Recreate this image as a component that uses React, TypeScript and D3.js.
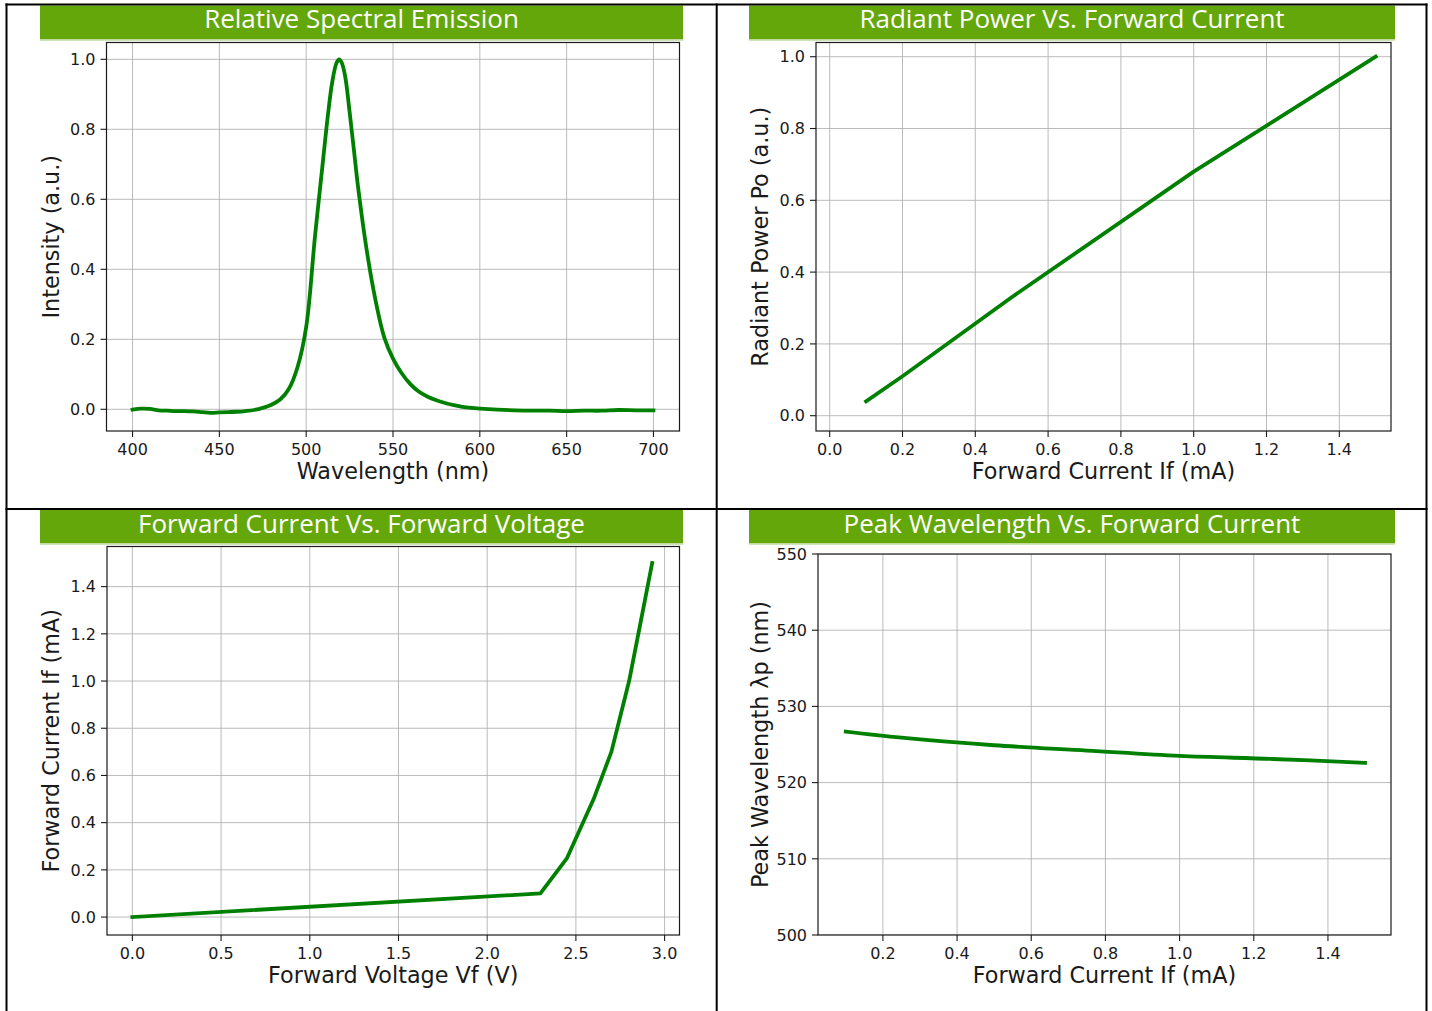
import React from "react";
import * as d3 from "d3";

// ---------- DATA ----------
const spectrumWavelength = [
  400, 405, 410, 415, 420, 425, 430, 435, 440, 445, 450, 455, 460, 465, 470, 475,
  480, 485, 490, 495, 500, 505, 510, 512.5, 515, 517.5, 519, 520.5, 522.5, 525,
  527.5, 530, 535, 540, 545, 550, 555, 560, 565, 570, 575, 580, 585, 590, 595,
  600, 610, 620, 630, 640, 650, 660, 670, 680, 690, 700,
];
const spectrumIntensity = [
  -0.001, 0.002, 0.001, -0.003, -0.004, -0.005, -0.005, -0.006, -0.008, -0.01,
  -0.009, -0.008, -0.007, -0.005, -0.002, 0.004, 0.013, 0.028, 0.058, 0.12,
  0.235, 0.49, 0.725, 0.84, 0.935, 0.99, 1.0, 0.99, 0.95, 0.85, 0.74, 0.63,
  0.45, 0.31, 0.205, 0.145, 0.103, 0.072, 0.05, 0.036, 0.026, 0.018, 0.012,
  0.007, 0.004, 0.002, -0.001, -0.003, -0.004, -0.004, -0.005, -0.004, -0.004,
  -0.002, -0.003, -0.003,
];

const powerCurrent = [0.1, 0.2, 0.5, 1.0, 1.5];
const powerRadiant = [0.04, 0.11, 0.33, 0.68, 1.0];

const ivVoltage = [0, 2.3, 2.45, 2.6, 2.7, 2.8, 2.93];
const ivCurrent = [0, 0.1, 0.25, 0.5, 0.7, 1.0, 1.5];

const peakCurrent = [0.1, 0.25, 0.5, 0.75, 1.0, 1.25, 1.5];
const peakWavelength = [526.7, 525.9, 524.9, 524.2, 523.5, 523.1, 522.6];

const spectrumXTicks = [400, 450, 500, 550, 600, 650, 700];
const spectrumYTicks = [0, 0.2, 0.4, 0.6, 0.8, 1.0];
const powerXTicks = [0, 0.2, 0.4, 0.6, 0.8, 1.0, 1.2, 1.4];
const powerYTicks = [0, 0.2, 0.4, 0.6, 0.8, 1.0];
const ivXTicks = [0, 0.5, 1.0, 1.5, 2.0, 2.5, 3.0];
const ivYTicks = [0, 0.2, 0.4, 0.6, 0.8, 1.0, 1.2, 1.4];
const peakXTicks = [0.2, 0.4, 0.6, 0.8, 1.0, 1.2, 1.4];
const peakYTicks = [500, 510, 520, 530, 540, 550];

const titles = [
  "Relative Spectral Emission",
  "Radiant Power Vs. Forward Current",
  "Forward Current Vs. Forward Voltage",
  "Peak Wavelength Vs. Forward Current",
];

// ---------- STYLE ----------
const W = 1432;
const H = 1011;
const BAR_GREEN = "#63a70a";
const LINE_GREEN = "#008000";
const TICK_FONT = "'DejaVu Sans', sans-serif";
const TITLE_FONT = "'Open Sans', sans-serif";
const TICK_SIZE = 16;
const LABEL_SIZE = 22.3;

type PanelProps = {
  id: string;
  title: string;
  barX0: number;
  barX1: number;
  barY0: number;
  barY1: number;
  left: number;
  right: number;
  top: number;
  bottom: number;
  xDomain: [number, number];
  yDomain: [number, number];
  xTicks: number[];
  yTicks: number[];
  fmtX: (v: number) => string;
  fmtY: (v: number) => string;
  xLabel: string;
  yLabel: string;
  yLabelX: number;
  xs: number[];
  ys: number[];
  smooth: boolean;
};

function Panel(p: PanelProps) {
  const x = d3.scaleLinear().domain(p.xDomain).range([p.left, p.right]);
  const y = d3.scaleLinear().domain(p.yDomain).range([p.bottom, p.top]);
  const pts: [number, number][] = p.xs.map((v, i) => [v, p.ys[i]]);
  const line = d3
    .line<[number, number]>()
    .x((d) => x(d[0]))
    .y((d) => y(d[1]))
    .curve(p.smooth ? d3.curveCatmullRom.alpha(0.5) : d3.curveLinear);
  const tickLen = 6;
  const pad = 5;
  const cx = (p.left + p.right) / 2;
  const cy = (p.top + p.bottom) / 2;
  return (
    <g>
      <defs>
        <clipPath id={`clip-${p.id}`}>
          <rect x={p.left} y={p.top} width={p.right - p.left} height={p.bottom - p.top} />
        </clipPath>
      </defs>
      {/* title bar */}
      <rect x={p.barX0} y={p.barY0} width={p.barX1 - p.barX0} height={p.barY1 - p.barY0} fill={BAR_GREEN} />
      <rect x={p.barX0} y={p.barY1} width={p.barX1 - p.barX0} height={1.5} fill="#cfe4b4" />
      <text
        x={(p.barX0 + p.barX1) / 2}
        y={p.barY0 + 22.5}
        textAnchor="middle"
        fill="#ffffff"
        fontFamily={TITLE_FONT}
        fontSize={26}
      >
        {p.title}
      </text>
      {/* grid */}
      <g clipPath={`url(#clip-${p.id})`}>
        {p.xTicks.map((t) => (
          <line key={`gx${t}`} x1={x(t)} x2={x(t)} y1={p.top} y2={p.bottom} stroke="#b0b0b0" strokeWidth={1} opacity={0.85} />
        ))}
        {p.yTicks.map((t) => (
          <line key={`gy${t}`} x1={p.left} x2={p.right} y1={y(t)} y2={y(t)} stroke="#b0b0b0" strokeWidth={1} opacity={0.85} />
        ))}
        <path d={line(pts) || ""} fill="none" stroke={LINE_GREEN} strokeWidth={3.8} strokeLinejoin="round" strokeLinecap="square" />
      </g>
      {/* spines */}
      <rect x={p.left} y={p.top} width={p.right - p.left} height={p.bottom - p.top} fill="none" stroke="#1a1a1a" strokeWidth={1.2} />
      {/* x ticks */}
      {p.xTicks.map((t) => (
        <g key={`xt${t}`}>
          <line x1={x(t)} x2={x(t)} y1={p.bottom} y2={p.bottom + tickLen} stroke="#1a1a1a" strokeWidth={1.1} />
          <text x={x(t)} y={p.bottom + 23.5} textAnchor="middle" fontFamily={TICK_FONT} fontSize={TICK_SIZE} fill="#1a1a1a">
            {p.fmtX(t)}
          </text>
        </g>
      ))}
      {/* y ticks */}
      {p.yTicks.map((t) => (
        <g key={`yt${t}`}>
          <line x1={p.left - tickLen} x2={p.left} y1={y(t)} y2={y(t)} stroke="#1a1a1a" strokeWidth={1.1} />
          <text x={p.left - tickLen - pad} y={y(t)} dy="0.36em" textAnchor="end" fontFamily={TICK_FONT} fontSize={TICK_SIZE} fill="#1a1a1a">
            {p.fmtY(t)}
          </text>
        </g>
      ))}
      {/* axis labels */}
      <text x={cx} y={p.bottom + 47.5} textAnchor="middle" fontFamily={TICK_FONT} fontSize={LABEL_SIZE} fill="#1a1a1a">
        {p.xLabel}
      </text>
      <text
        transform={`translate(${p.yLabelX},${cy}) rotate(-90)`}
        textAnchor="middle"
        fontFamily={TICK_FONT}
        fontSize={LABEL_SIZE}
        fill="#1a1a1a"
      >
        {p.yLabel}
      </text>
    </g>
  );
}

const f1 = (v: number) => d3.format(".1f")(v);
const f0 = (v: number) => d3.format("d")(v);

export default function App() {
  return (
    <div style={{ position: "absolute", left: 0, top: 0 }}>
      <svg width={W} height={H} viewBox={`0 0 ${W} ${H}`} style={{ display: "block", background: "#fff" }}>
        <rect x={0} y={0} width={W} height={H} fill="#ffffff" />
        <Panel
          id="a"
          title={titles[0]}
          barX0={40}
          barX1={683}
          barY0={5.5}
          barY1={39.5}
          left={106.5}
          right={679.5}
          top={42.5}
          bottom={431}
          xDomain={[385, 715]}
          yDomain={[-0.062, 1.048]}
          xTicks={spectrumXTicks}
          yTicks={spectrumYTicks}
          fmtX={f0}
          fmtY={f1}
          xLabel="Wavelength (nm)"
          yLabel="Intensity (a.u.)"
          yLabelX={59}
          xs={spectrumWavelength}
          ys={spectrumIntensity}
          smooth={true}
        />
        <Panel
          id="b"
          title={titles[1]}
          barX0={749}
          barX1={1395}
          barY0={5.5}
          barY1={39.5}
          left={816}
          right={1391}
          top={42.5}
          bottom={431}
          xDomain={[-0.0376, 1.542]}
          yDomain={[-0.0426, 1.0396]}
          xTicks={powerXTicks}
          yTicks={powerYTicks}
          fmtX={f1}
          fmtY={f1}
          xLabel="Forward Current If (mA)"
          yLabel="Radiant Power Po (a.u.)"
          yLabelX={768}
          xs={powerCurrent}
          ys={powerRadiant}
          smooth={false}
        />
        <Panel
          id="c"
          title={titles[2]}
          barX0={40}
          barX1={683}
          barY0={510}
          barY1={543.5}
          left={107}
          right={679.5}
          top={546.5}
          bottom={935}
          xDomain={[-0.143, 3.084]}
          yDomain={[-0.076, 1.57]}
          xTicks={ivXTicks}
          yTicks={ivYTicks}
          fmtX={f1}
          fmtY={f1}
          xLabel="Forward Voltage Vf (V)"
          yLabel="Forward Current If (mA)"
          yLabelX={59}
          xs={ivVoltage}
          ys={ivCurrent}
          smooth={false}
        />
        <Panel
          id="d"
          title={titles[3]}
          barX0={749}
          barX1={1395}
          barY0={510}
          barY1={543.5}
          left={818}
          right={1391}
          top={554}
          bottom={935}
          xDomain={[0.025, 1.57]}
          yDomain={[500, 550]}
          xTicks={peakXTicks}
          yTicks={peakYTicks}
          fmtX={f1}
          fmtY={f0}
          xLabel="Forward Current If (mA)"
          yLabel="Peak Wavelength λp (nm)"
          yLabelX={768}
          xs={peakCurrent}
          ys={peakWavelength}
          smooth={true}
        />
        {/* table borders */}
        <line x1={6.5} x2={6.5} y1={3.5} y2={H} stroke="#000" strokeWidth={2} />
        <line x1={716.7} x2={716.7} y1={3.5} y2={H} stroke="#000" strokeWidth={2} />
        <line x1={1426.5} x2={1426.5} y1={3.5} y2={H} stroke="#000" strokeWidth={2} />
        <line x1={5.5} x2={1427.5} y1={4.5} y2={4.5} stroke="#000" strokeWidth={2} />
        <line x1={5.5} x2={1427.5} y1={509} y2={509} stroke="#000" strokeWidth={2} />
      </svg>
    </div>
  );
}
